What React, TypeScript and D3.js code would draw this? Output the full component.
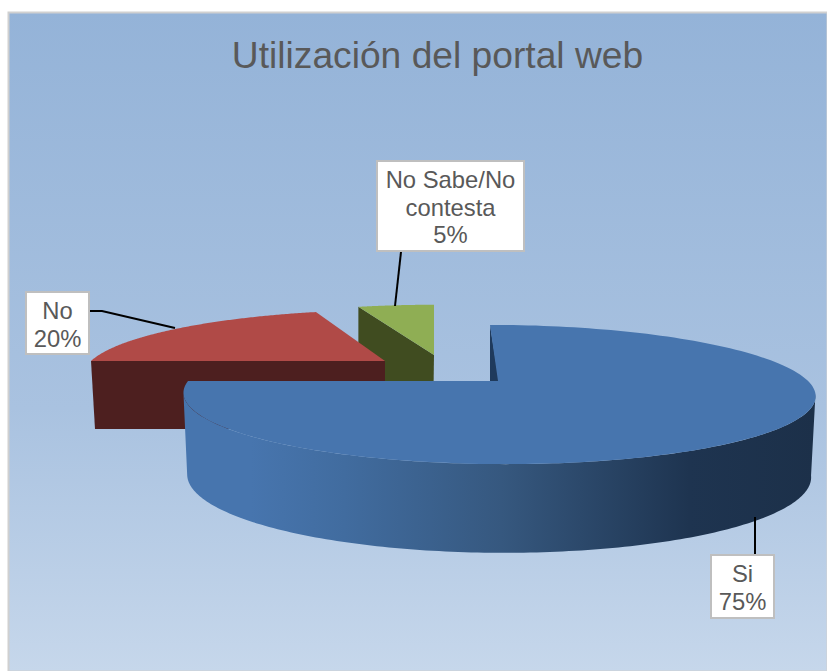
import React from "react";
import * as d3 from "d3";

const title = "Utilización del portal web";
const categories = ["Si", "No", "No Sabe/No contesta"];
const shares = [75, 20, 5];
const labelLines = [["Si", "75%"], ["No", "20%"], ["No Sabe/No", "contesta", "5%"]];

const W = 827, H = 671;
const TAU = Math.PI * 2;

type P = { cx: number; cy: number; rx: number; a: number; k: number; shear: number };
// perspective disc projection: angle (clockwise from back) -> screen point
const project = (p: P) => (t: number): [number, number] => {
  const u = Math.sin(t), v = -Math.cos(t), d = 1 - p.k * v;
  return [p.cx + (p.rx * u) / d + p.shear * v, p.cy + (p.a * v) / d];
};
const line = d3.line<[number, number]>().x(d => d[0]).y(d => d[1]);
const arcPts = (f: (t: number) => [number, number], a0: number, a1: number, n = 160) =>
  d3.range(n + 1).map(i => f(a0 + ((a1 - a0) * i) / n));
const closed = (pts: [number, number][]) => line(pts) + "Z";

const blueTop: P = { cx: 498, cy: 381, rx: 310, a: 67, k: 0.194, shear: 8 };
const blueBase: P = { cx: 498, cy: 461, rx: 306, a: 74, k: 0.194, shear: 6 };
const redTop: P = { cx: 385, cy: 361, rx: 294, a: 61, k: 0.194, shear: -8 };
const greenTop: P = { cx: 434, cy: 355, rx: 290, a: 60, k: 0.194, shear: 0 };
const redDepth = 68, greenDepth = 70;

export default function App() {
  const pie = d3.pie<number>().sort(null).value(d => d)(shares);
  const [si, no, ns] = pie;
  const bT = project(blueTop), bB = project(blueBase), rT = project(redTop), gT = project(greenTop);

  const blueSurface = closed([[blueTop.cx, blueTop.cy], ...arcPts(bT, si.startAngle, si.endAngle)]);
  const wallFrom = TAU * 0.28, wallTo = TAU * 0.72;
  const blueWall = closed([
    ...arcPts(bT, wallFrom, wallTo),
    ...arcPts(bB, wallTo, wallFrom),
  ]);
  const blueInner = closed([bT(0), [blueTop.cx + 1, blueTop.cy], [bT(0)[0], blueTop.cy]]);

  const redSurface = closed([[redTop.cx, redTop.cy], ...arcPts(rT, no.startAngle, no.endAngle)]);
  const redLeft = rT(no.startAngle);
  const redWall = closed([
    redLeft, [redTop.cx, redTop.cy], [redTop.cx, redTop.cy + redDepth], [redLeft[0] + 4, redTop.cy + redDepth],
  ]);

  const greenSurface = closed([[greenTop.cx, greenTop.cy], ...arcPts(gT, ns.startAngle, ns.endAngle)]);
  const gL = gT(ns.startAngle);
  const greenWall = closed([
    gL, [greenTop.cx, greenTop.cy], [greenTop.cx - 1, greenTop.cy + greenDepth], [gL[0], greenTop.cy + greenDepth],
  ]);

  const boxes = [
    { x: 711, y: 555, w: 63, h: 63, leader: [[755, 517], [755, 555]] },
    { x: 26, y: 292, w: 63, h: 62, leader: [[90, 311], [102, 311], [175, 328]] },
    { x: 377, y: 161, w: 147, h: 90, leader: [[401, 252], [395, 306]] },
  ];

  return (
    <svg width={W} height={H} viewBox={`0 0 ${W} ${H}`} role="img" aria-label={categories.join(", ")}
      style={{ position: "absolute", left: 0, top: 0, display: "block" }}>
      <defs>
        <linearGradient id="bg" x1="0" y1="0" x2="0" y2="1">
          <stop offset="0" stopColor="#94b3d8" />
          <stop offset="0.6" stopColor="#a9c2e0" />
          <stop offset="1" stopColor="#c6d7eb" />
        </linearGradient>
        <linearGradient id="wall" gradientUnits="userSpaceOnUse" x1="188" y1="0" x2="815" y2="0">
          <stop offset="0" stopColor="#4775ae" />
          <stop offset="0.1" stopColor="#4775ae" />
          <stop offset="0.25" stopColor="#416c9f" />
          <stop offset="0.5" stopColor="#36587f" />
          <stop offset="0.8" stopColor="#1e3450" />
          <stop offset="1" stopColor="#1c3049" />
        </linearGradient>
      </defs>
      <rect x={0} y={0} width={W} height={H} fill="#fff" />
      <rect x={8.5} y={12.5} width={W - 8} height={H - 12} fill="url(#bg)" stroke="#d0d0d0" strokeWidth={2} />

      <path d={greenWall} fill="#404c20" />
      <path d={greenSurface} fill="#8fae54" />
      <path d={redWall} fill="#4d1f1f" />
      <path d={redSurface} fill="#b04a47" />
      <path d={blueInner} fill="#1f3a5c" />
      <path d={blueWall} fill="url(#wall)" />
      <path d={blueSurface} fill="#4775ae" />

      <text x={437.5} y={68} textAnchor="middle" fontFamily="'Liberation Sans', Arial, sans-serif" fontSize={37.2} fill="#595959">{title}</text>

      {boxes.map((b, i) => (
        <g key={categories[i]}>
          <path d={line(b.leader as [number, number][])!} fill="none" stroke="#000" strokeWidth={2} />
          <rect x={b.x} y={b.y} width={b.w} height={b.h} fill="#fff" stroke="#bfbfbf" strokeWidth={2} />
          {labelLines[i].map((t, j) => (
            <text key={j} x={b.x + b.w / 2} y={b.y + 27 + j * 27.5} textAnchor="middle"
              fontFamily="'Liberation Sans', Arial, sans-serif" fontSize={23.8} fill="#595959">{t}</text>
          ))}
        </g>
      ))}
    </svg>
  );
}
